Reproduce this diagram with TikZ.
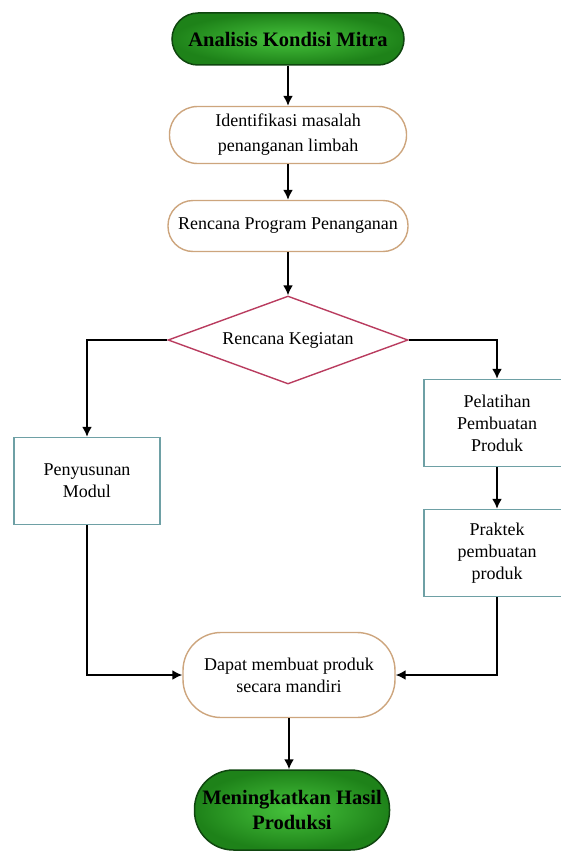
\documentclass[tikz,border=0pt]{standalone}
\usepackage{fontspec}
\setmainfont{Liberation Serif}
\usetikzlibrary{shapes.geometric, arrows.meta, positioning, calc}
\definecolor{termline}{RGB}{15,70,15}
\definecolor{termin}{RGB}{70,195,60}
\definecolor{termout}{RGB}{30,130,25}
\definecolor{procline}{RGB}{205,165,125}
\definecolor{keputline}{RGB}{185,60,95}
\definecolor{kotakline}{RGB}{110,160,165}

\begin{document}
\begin{tikzpicture}[x=1pt, y=-1pt, font=\fontsize{18}{22}\selectfont,
    term/.style={draw=termline, line width=1.5pt, inner color=termin, outer color=termout,
        rounded corners=26pt, minimum width=232pt, minimum height=52pt, align=center,
        font=\fontsize{20.5}{25}\selectfont\bfseries},
    proc/.style={draw=procline, line width=1.4pt, fill=white, rounded corners=28pt, align=center},
    keput/.style={diamond, draw=keputline, line width=1.4pt, aspect=2.7, inner sep=0pt,
        minimum width=240pt, minimum height=88pt, align=center},
    kotak/.style={draw=kotakline, line width=1.4pt, minimum width=146pt, minimum height=87pt, align=center},
    link/.style={draw, line width=1.8pt, -{Latex[length=10pt, width=10pt]}}
]
    \useasboundingbox (0,0) rectangle (561,851);
    \node[term] (mitra) at (288,39) {Analisis Kondisi Mitra};
    \node[proc, minimum width=237pt, minimum height=57pt, font=\fontsize{18}{25}\selectfont] (ident) at (288,135) {Identifikasi masalah\\penanganan limbah};
    \node[proc, minimum width=240pt, minimum height=51pt, rounded corners=25pt] (renc) at (288,226) {Rencana Program Penanganan};
    \node[keput] (keg) at (288,340) {Rencana Kegiatan};
    \node[kotak] (modul) at (87,481) {Penyusunan\\Modul};
    \node[kotak] (latih) at (497,423) {Pelatihan\\Pembuatan\\Produk};
    \node[kotak] (praktek) at (497,553) {Praktek\\pembuatan\\produk};
    \node[proc, minimum width=212pt, minimum height=85pt, rounded corners=38pt] (dapat) at (289,675) {Dapat membuat produk\\secara mandiri};
    \node[term, minimum width=195pt, minimum height=80pt, rounded corners=39pt] (hasil) at (292,810) {Meningkatkan Hasil\\Produksi};
    \draw[link] (mitra.south) -- (ident.north);
    \draw[link] (ident.south) -- (renc.north);
    \draw[link] (renc.south) -- (keg.north);
    \draw[link] (keg.west) -| (modul.north);
    \draw[link] (keg.east) -| (latih.north);
    \draw[link] (latih.south) -- (praktek.north);
    \draw[link] (modul.south) |- (dapat.west);
    \draw[link] (praktek.south) |- (dapat.east);
    \draw[link] (dapat.south) -- (dapat.south |- hasil.north);
\end{tikzpicture}
\end{document}
